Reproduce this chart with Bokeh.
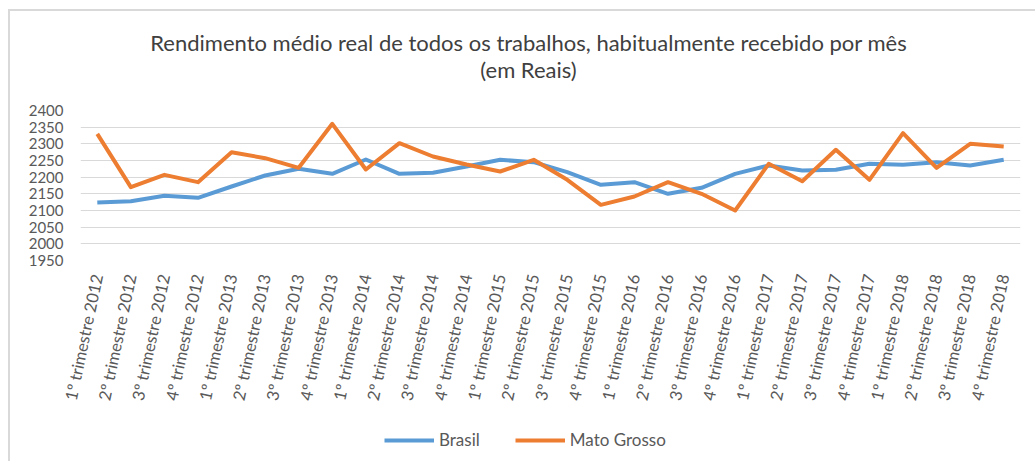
from bokeh.plotting import figure
from bokeh.models import FactorRange, Range1d, FixedTicker, Legend, LegendItem, ColumnDataSource, Div
from bokeh.layouts import column
from bokeh.embed import file_html
from bokeh.resources import INLINE
import math

categories = []
for yr in [2012, 2013, 2014, 2015, 2016, 2017, 2018]:
    for q in [1, 2, 3, 4]:
        categories.append(f"{q}º trimestre {yr}")

brasil = [2124, 2128, 2144, 2138, 2172, 2205, 2225, 2210,
          2253, 2210, 2213, 2232, 2252, 2245, 2215, 2177,
          2185, 2150, 2168, 2210, 2235, 2220, 2222, 2240,
          2237, 2245, 2235, 2252]
mato_grosso = [2330, 2170, 2207, 2185, 2275, 2257, 2228, 2360,
               2223, 2302, 2262, 2238, 2217, 2252, 2192, 2117,
               2142, 2185, 2150, 2100, 2240, 2188, 2282, 2192,
               2332, 2228, 2300, 2292]
y_ticks = [1950, 2000, 2050, 2100, 2150, 2200, 2250, 2300, 2350, 2400]
title_lines = ["Rendimento médio real de todos os trabalhos, habitualmente recebido por mês",
               "(em Reais)"]
series_names = ["Brasil", "Mato Grosso"]
series_colors = ["#5B9BD5", "#ED7D31"]

FONT = "Lato"
src = ColumnDataSource(dict(x=categories, b=brasil, m=mato_grosso))

# ---- title ----
title_div = Div(text="<br>".join(title_lines), width=1035, height=80, margin=0,
                styles={"text-align": "center", "font-family": "Lato", "font-size": "22px",
                        "color": "#404040", "line-height": "27px", "padding-top": "29px",
                        "padding-left": "22px", "box-sizing": "border-box", "white-space": "nowrap"})

# ---- main chart ----
p = figure(width=1035, height=340, x_range=FactorRange(*categories, range_padding=0),
           y_range=Range1d(1950, 2400), output_backend="svg", toolbar_location=None,
           min_border_left=80, min_border_right=15, min_border_top=30, min_border_bottom=160,
           margin=0)
p.outline_line_color = None
p.border_fill_color = None

rb = p.line("x", "b", source=src, line_color=series_colors[0], line_width=4, line_join="round")
rm = p.line("x", "m", source=src, line_color=series_colors[1], line_width=4, line_join="round")

p.yaxis.ticker = FixedTicker(ticks=y_ticks)
for ax in [p.xaxis[0], p.yaxis[0]]:
    ax.axis_line_color = None
    ax.major_tick_line_color = None
    ax.minor_tick_line_color = None
    ax.major_tick_out = 0
    ax.major_label_text_font = FONT
    ax.major_label_text_color = "#595959"
p.yaxis.major_label_text_font_size = "15px"
p.xaxis.major_label_text_font_size = "16.5px"
p.yaxis.major_label_standoff = 17
p.xaxis.major_label_standoff = 14
p.xaxis.major_label_orientation = math.radians(78)
p.xgrid.grid_line_color = None
p.ygrid.grid_line_color = "#D9D9D9"
p.ygrid.grid_line_width = 1
p.ygrid.ticker = FixedTicker(ticks=y_ticks)

# ---- legend strip (the series are drawn again but lie outside its view; only the legend shows) ----
pl = figure(width=1035, height=41, x_range=FactorRange(*categories, range_padding=0),
            y_range=Range1d(0, 1), output_backend="svg", toolbar_location=None,
            min_border=0, margin=0)
pl.axis.visible = False
pl.grid.visible = False
pl.outline_line_color = None
pl.border_fill_color = None
pl.background_fill_color = None
lb = pl.line("x", "b", source=src, line_color=series_colors[0], line_width=4)
lm = pl.line("x", "m", source=src, line_color=series_colors[1], line_width=4)
legend = Legend(items=[LegendItem(label=series_names[0], renderers=[lb]),
                       LegendItem(label=series_names[1], renderers=[lm])],
                orientation="horizontal", location=(304, 11),
                label_text_font=FONT, label_text_font_size="17px", label_text_color="#595959",
                glyph_width=50, glyph_height=20, label_height=20, label_standoff=5,
                spacing=35, padding=0, margin=0, border_line_color=None, background_fill_alpha=0)
pl.add_layout(legend, "center")

layout = column(title_div, p, pl, spacing=0, width=1035, height=461,
                styles={"background-color": "white",
                        "background-image": "linear-gradient(#D9D9D9, #D9D9D9), linear-gradient(#D9D9D9, #D9D9D9)",
                        "background-size": "2px 100%, 100% 2px",
                        "background-position": "8px 9px, 8px 9px",
                        "background-repeat": "no-repeat"})

open("out.html", "w").write(file_html(layout, INLINE))
